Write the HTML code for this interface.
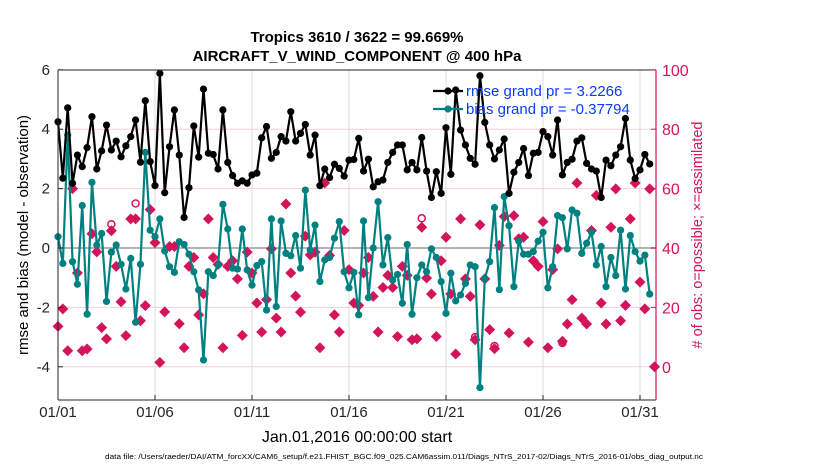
<!DOCTYPE html>
<html><head><meta charset="utf-8"><style>
body{margin:0;background:#fff;}
svg{display:block;font-family:"Liberation Sans",Arial,sans-serif;}
</style></head><body>
<svg id="chart" width="830" height="470" viewBox="0 0 830 470" xmlns="http://www.w3.org/2000/svg">
<g id="grid"></g>
<g id="marks"></g>
<g id="axes"></g>
<text x="357" y="42" text-anchor="middle" font-size="15" font-weight="bold">Tropics 3610 / 3622 = 99.669%</text>
<text x="357" y="61" text-anchor="middle" font-size="15" font-weight="bold">AIRCRAFT_V_WIND_COMPONENT @ 400 hPa</text>
<text x="357" y="442" text-anchor="middle" font-size="16">Jan.01,2016 00:00:00 start</text>
<text transform="translate(28,235) rotate(-90)" text-anchor="middle" font-size="15">rmse and bias (model - observation)</text>
<text transform="translate(702,235) rotate(-90)" text-anchor="middle" font-size="14.5" fill="#d4145a"># of obs: o=possible; ×=assimilated</text>
<text x="105" y="459" font-size="7" textLength="598" lengthAdjust="spacingAndGlyphs">data file: /Users/raeder/DAI/ATM_forcXX/CAM6_setup/f.e21.FHIST_BGC.f09_025.CAM6assim.011/Diags_NTrS_2017-02/Diags_NTrS_2016-01/obs_diag_output.nc</text>
<g id="legend"></g>
</svg>
<script>
const rmse=[4.25,2.35,4.72,2.18,3.13,2.74,3.38,4.42,2.66,3.27,4.14,3.30,3.60,3.07,3.44,3.75,4.31,2.89,4.96,2.91,2.10,5.88,1.86,3.41,4.65,3.13,1.03,2.03,4.11,3.06,5.35,
3.19,3.15,2.66,4.65,2.88,2.44,2.18,2.26,2.18,2.46,2.52,3.71,4.09,3.02,3.22,3.75,3.60,4.59,3.60,3.86,4.16,3.13,3.80,2.10,2.66,2.37,2.82,2.68,2.42,2.96,2.98,
3.69,2.59,2.99,2.06,2.23,2.29,2.88,3.22,3.47,3.47,2.63,2.88,2.63,3.72,2.59,1.70,2.57,1.84,4.05,2.48,5.32,3.97,3.47,3.02,2.82,5.80,4.23,3.47,3.0,3.3,
3.67,1.84,2.55,2.88,3.35,2.44,3.19,3.22,3.92,3.75,3.13,4.31,2.46,2.88,2.99,3.60,3.71,2.85,2.66,2.59,1.70,2.96,2.77,3.13,3.41,4.36,2.96,2.34,2.63,3.15,2.83];
const bias=[0.38,-0.52,3.80,-0.46,-1.22,1.43,-2.23,2.21,0.10,0.49,-1.80,-0.14,0.10,-0.55,-1.38,-0.35,-2.50,-0.55,3.22,0.60,0.38,0.98,-0.10,-0.63,-0.82,0.21,0.12,-0.21,-0.80,-1.41,-3.77,
-0.80,-0.93,-0.57,1.47,0.64,-0.68,-0.71,0.64,-0.74,-1.25,-0.59,-0.46,-2.09,0.98,-1.97,0.91,-0.18,-0.26,0.42,-0.68,1.95,-0.07,0.77,-1.13,-0.40,-0.32,0.33,0.89,-0.80,-1.34,-0.82,
-2.25,0.91,-1.67,0.0,1.56,-0.57,0.35,-1.08,-0.89,-1.86,0.12,-2.23,-1.0,-0.57,-0.80,-0.03,-0.32,-1.13,-2.2,-0.85,-1.78,-1.58,-1.19,-0.57,-0.63,-4.70,-1.02,-0.46,1.36,-1.4,
1.73,0.75,-1.30,0.23,-0.21,-0.21,-0.12,0.23,0.53,-1.34,-0.63,1.09,1.02,-0.03,1.28,1.17,-0.18,0.16,0.53,-0.57,0.05,-1.30,-0.32,-0.93,0.60,-1.38,0.42,-0.12,-0.44,-0.24,-1.55];
const obsUsed=[13.6,19.5,5.4,60,31.6,5.4,6,44.8,38.7,13.2,9.4,45.8,33.8,21.9,10.5,49.8,49.8,15.5,20.6,52.9,41.8,1.5,18.5,40.5,40.5,14.5,6.4,33.8,36.8,17.5,24.6,
49.8,36.8,34.5,6.4,33.8,35.7,29.6,10.6,38.6,31.6,21.5,11.7,22.6,39.7,16.4,11.7,54.8,31.6,23.8,18.4,44.0,37.7,38.6,6.4,61.9,37.5,17.5,11.7,45.9,32.7,21.5,
20.7,31.6,36.8,23.7,11.7,26.7,30.8,26.7,10.2,33.8,30.8,9.1,9.4,47.0,29.9,24.5,10.2,35.7,43.6,24.5,4.3,49.8,29.6,23.7,9.1,47.8,29.6,12.5,6.1,40.9,
50.6,11.4,50.9,43.1,43.6,8.3,35.7,33.8,48.9,6.4,32.7,39.7,8.6,14.4,22.6,61.9,16.4,14.4,45.9,57.7,21.5,14.4,47.0,59.9,15.5,20.7,49.8,61.9,28.5,19.5,59.9,0];
const possIdx=[11,16,75,86,90,104];
const possVal=[48,55,50,10,7,8];
const leftTicks=[6,4,2,0,-2,-4];
const rightTicks=[100,80,60,40,20,0];
const xTickDays=[0,5,10,15,20,25,30];
const xTickLabels=["01/01","01/06","01/11","01/16","01/21","01/26","01/31"];
const legendLabels=["rmse grand pr = 3.2266","bias grand pr = -0.37794"];

const L=58,R=656,T=70,B=400;
const X=d=>L+d*19.4;
const XI=i=>X(i/4);
const Y=v=>248-v*29.7;
const YR=n=>Y(-4+n/10);
const NS="http://www.w3.org/2000/svg";
function mk(p,tag,at){const e=document.createElementNS(NS,tag);for(const k in at)e.setAttribute(k,at[k]);p.appendChild(e);return e;}
const grid=document.getElementById('grid'),marks=document.getElementById('marks'),axes=document.getElementById('axes'),leg=document.getElementById('legend');
const MAG="#d4145a",TEAL="#008080";

xTickDays.forEach(d=>{if(d>0){const g=mk(grid,'line',{x1:X(d),x2:X(d),y1:T,y2:B,stroke:'#dcdcdc','stroke-width':1});

}});
rightTicks.forEach(n=>{if(n<100&&n!==40){const g=mk(grid,'line',{x1:L,x2:R,y1:YR(n),y2:YR(n),stroke:'#f4cfdc','stroke-width':1});

}});
const z=mk(grid,'line',{x1:L,x2:R,y1:Y(0),y2:Y(0),stroke:'#b4b4b4','stroke-width':2});



possIdx.forEach((i,k)=>{const c=mk(marks,'circle',{cx:XI(i),cy:YR(possVal[k]),r:3.5,fill:'none',stroke:MAG,'stroke-width':1.5});

});
obsUsed.forEach((n,i)=>{if(n==null)return;const x=XI(i),y=YR(n),s=5.5;
const d=mk(marks,'path',{d:`M${x} ${y-s}L${x+s} ${y}L${x} ${y+s}L${x-s} ${y}Z`,fill:MAG});

});

function series(arr,col,name){
 const p=mk(marks,'polyline',{points:arr.map((v,i)=>XI(i)+','+Y(v)).join(' '),fill:'none',stroke:col,'stroke-width':2.2,'stroke-linejoin':'round'});
 
 
 arr.forEach((v,i)=>{const c=mk(marks,'circle',{cx:XI(i),cy:Y(v),r:3.6,fill:col});
 
 });
}
series(bias,TEAL,'bias');
series(rmse,'#000','rmse');

mk(axes,'line',{x1:L,x2:R,y1:T,y2:T,stroke:'#262626','stroke-width':1});
mk(axes,'line',{x1:L,x2:R,y1:B,y2:B,stroke:'#262626','stroke-width':1});
mk(axes,'line',{x1:L,x2:L,y1:T,y2:B,stroke:'#262626','stroke-width':1});
mk(axes,'line',{x1:R,x2:R,y1:T,y2:B,stroke:MAG,'stroke-width':1.2});
leftTicks.forEach(v=>{mk(axes,'line',{x1:L,x2:L+5,y1:Y(v),y2:Y(v),stroke:'#262626'});
const t=mk(axes,'text',{x:L-8,y:Y(v)+5,'text-anchor':'end','font-size':15,fill:'#262626'});t.textContent=v;

});
rightTicks.forEach(n=>{mk(axes,'line',{x1:R-5,x2:R,y1:YR(n),y2:YR(n),stroke:MAG});
const t=mk(axes,'text',{x:R+6,y:YR(n)+6,'font-size':16,fill:MAG});t.textContent=n;

});
xTickDays.forEach((d,k)=>{mk(axes,'line',{x1:X(d),x2:X(d),y1:B,y2:B-5,stroke:'#262626'});
const t=mk(axes,'text',{x:X(d),y:417,'text-anchor':'middle','font-size':15,fill:'#262626'});t.textContent=xTickLabels[k];

});

[['#000',91],[TEAL,109]].forEach((c,k)=>{
 mk(leg,'line',{x1:433,x2:463,y1:c[1],y2:c[1],stroke:c[0],'stroke-width':2.2});
 mk(leg,'circle',{cx:448,cy:c[1],r:3.6,fill:c[0]});
 const t=mk(leg,'text',{x:466,y:c[1]+5,'font-size':15,fill:'#0a3cff'});t.textContent=legendLabels[k];
 
 
});
</script>
</body></html>
